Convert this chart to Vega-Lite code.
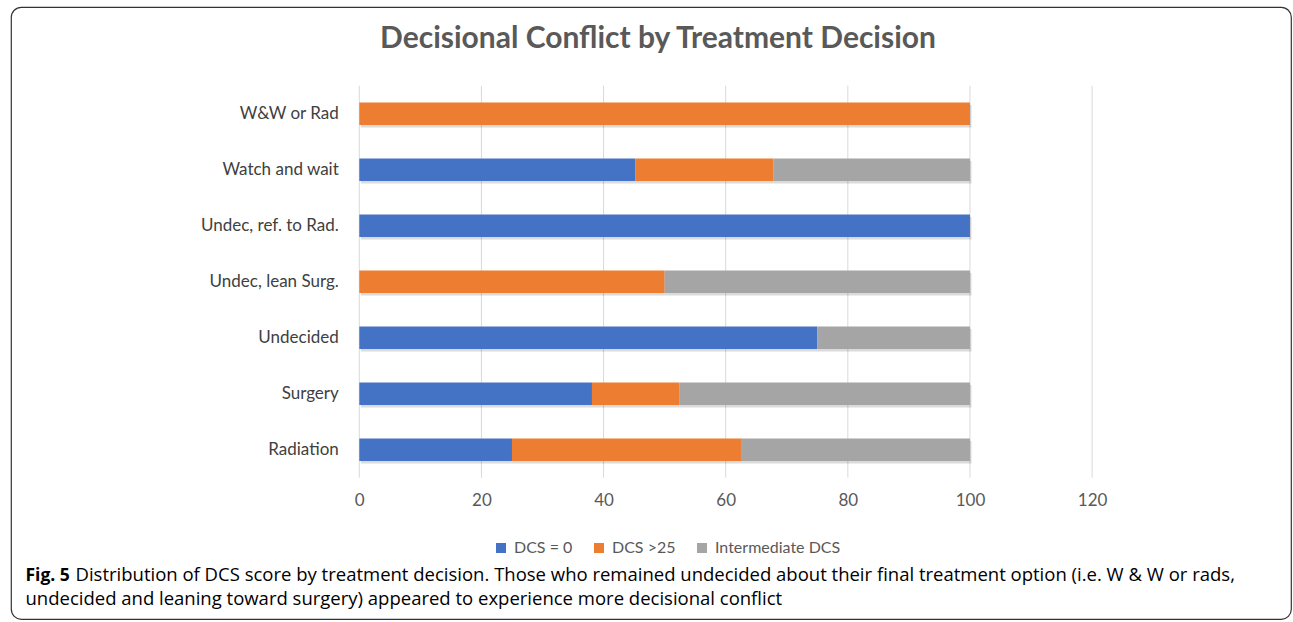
{
  "$schema": "https://vega.github.io/schema/vega-lite/v6.json",
  "width": 1280,
  "height": 612,
  "autosize": {"type": "none"},
  "padding": {"left": 11, "top": 7, "right": 2, "bottom": 3},
  "background": "white",
  "view": {"stroke": "#333333", "strokeWidth": 1.2, "cornerRadius": 10, "fill": "white"},
  "title": {
    "text": "Decisional Conflict by Treatment Decision",
    "font": "Lato",
    "fontSize": 30,
    "fontWeight": "bold",
    "color": "#595959",
    "anchor": "middle",
    "frame": "group",
    "baseline": "alphabetic",
    "offset": -71,
    "dx": 7
  },
  "datasets": {
    "dcs": [
      {"decision": "W&W or Rad", "group": "DCS >25", "pct": 100},
      {"decision": "Watch and wait", "group": "DCS = 0", "pct": 45.2},
      {"decision": "Watch and wait", "group": "DCS >25", "pct": 22.6},
      {"decision": "Watch and wait", "group": "Intermediate DCS", "pct": 32.2},
      {"decision": "Undec, ref. to Rad.", "group": "DCS = 0", "pct": 100},
      {"decision": "Undec, lean Surg.", "group": "DCS >25", "pct": 50},
      {"decision": "Undec, lean Surg.", "group": "Intermediate DCS", "pct": 50},
      {"decision": "Undecided", "group": "DCS = 0", "pct": 75},
      {"decision": "Undecided", "group": "Intermediate DCS", "pct": 25},
      {"decision": "Surgery", "group": "DCS = 0", "pct": 38.1},
      {"decision": "Surgery", "group": "DCS >25", "pct": 14.3},
      {"decision": "Surgery", "group": "Intermediate DCS", "pct": 47.6},
      {"decision": "Radiation", "group": "DCS = 0", "pct": 25},
      {"decision": "Radiation", "group": "DCS >25", "pct": 37.5},
      {"decision": "Radiation", "group": "Intermediate DCS", "pct": 37.5}
    ],
    "gridlines": [
      {"tick": 0}, {"tick": 20}, {"tick": 40}, {"tick": 60},
      {"tick": 80}, {"tick": 100}, {"tick": 120}
    ]
  },
  "layer": [
    {
      "data": {"name": "gridlines"},
      "mark": {"type": "rule", "color": "#d9d9d9", "strokeWidth": 1},
      "encoding": {
        "x": {
          "field": "tick",
          "type": "quantitative",
          "scale": {"domain": [0, 120], "range": [348.3, 1081.1], "nice": false, "zero": true},
          "axis": null
        },
        "y": {
          "datum": 0,
          "type": "quantitative",
          "scale": {"domain": [0, 1], "range": [78.7, 470.7]},
          "axis": {
            "orient": "right",
            "domain": false,
            "ticks": false,
            "labels": false,
            "grid": false,
            "title": "Fig. 5",
            "titleAngle": 0,
            "titleFont": "Open Sans",
            "titleFontSize": 17.5,
            "titleFontWeight": "bold",
            "titleColor": "#000000",
            "titleAlign": "left",
            "titleBaseline": "alphabetic",
            "titleX": -1266,
            "titleY": 573.5
          }
        },
        "y2": {"datum": 1}
      }
    },
    {
      "data": {"name": "dcs"},
      "transform": [
        {"aggregate": [{"op": "sum", "field": "pct", "as": "total"}], "groupby": ["decision"]}
      ],
      "mark": {"type": "bar", "color": "#000000", "opacity": 0.14, "yOffset": 2.5, "xOffset": 1.5},
      "encoding": {
        "y": {
          "field": "decision",
          "type": "nominal",
          "sort": ["W&W or Rad", "Watch and wait", "Undec, ref. to Rad.", "Undec, lean Surg.", "Undecided", "Surgery", "Radiation"],
          "scale": {"range": [78.7, 470.7], "paddingInner": 0.6, "paddingOuter": 0.3},
          "axis": null
        },
        "x": {
          "field": "total",
          "type": "quantitative",
          "scale": {"domain": [0, 120], "range": [348.3, 1081.1], "nice": false, "zero": true},
          "axis": null
        }
      }
    },
    {
      "data": {"name": "dcs"},
      "mark": {"type": "bar"},
      "encoding": {
        "y": {
          "field": "decision",
          "type": "nominal",
          "sort": ["W&W or Rad", "Watch and wait", "Undec, ref. to Rad.", "Undec, lean Surg.", "Undecided", "Surgery", "Radiation"],
          "scale": {"range": [78.7, 470.7], "paddingInner": 0.6, "paddingOuter": 0.3},
          "axis": {
            "orient": "left",
            "offset": -348.3,
            "domain": false,
            "ticks": false,
            "tickSize": 0,
            "grid": false,
            "labelPadding": 21,
            "labelFont": "Lato",
            "labelFontSize": 17,
            "labelColor": "#404040",
            "labelLimit": 0,
            "title": "undecided and leaning toward surgery) appeared to experience more decisional conflict",
            "titleAngle": 0,
            "titleFont": "Open Sans",
            "titleFontSize": 18.5,
            "titleFontWeight": "normal",
            "titleColor": "#000000",
            "titleAlign": "left",
            "titleBaseline": "alphabetic",
            "titleLimit": 0,
            "titleX": -334.3,
            "titleY": 597.5
          }
        },
        "x": {
          "field": "pct",
          "type": "quantitative",
          "stack": "zero",
          "scale": {"domain": [0, 120], "range": [348.3, 1081.1], "nice": false, "zero": true},
          "axis": {
            "orient": "bottom",
            "offset": -141.3,
            "values": [0, 20, 40, 60, 80, 100, 120],
            "domain": false,
            "ticks": false,
            "tickSize": 0,
            "grid": false,
            "labelFlush": false,
            "labelPadding": 15,
            "labelFont": "Lato",
            "labelFontSize": 17,
            "labelColor": "#595959",
            "title": "Distribution of DCS score by treatment decision. Those who remained undecided about their final treatment option (i.e. W & W or rads,",
            "titleFont": "Open Sans",
            "titleFontSize": 18.5,
            "titleFontWeight": "normal",
            "titleColor": "#000000",
            "titleAlign": "left",
            "titleAnchor": "start",
            "titleBaseline": "alphabetic",
            "titleLimit": 0,
            "titleX": 64,
            "titleY": 102.5
          }
        },
        "color": {
          "field": "group",
          "type": "nominal",
          "scale": {
            "domain": ["DCS = 0", "DCS >25", "Intermediate DCS"],
            "range": ["#4472C4", "#ED7D31", "#A5A5A5"]
          },
          "legend": {
            "title": null,
            "orient": "none",
            "legendX": 482,
            "legendY": 533,
            "direction": "horizontal",
            "symbolType": "square",
            "symbolSize": 100,
            "symbolStrokeWidth": 0,
            "labelFont": "Lato",
            "labelFontSize": 16,
            "labelColor": "#595959",
            "labelOffset": 5,
            "columnPadding": 18,
            "padding": 0
          }
        },
        "order": {"field": "group", "sort": "ascending"}
      }
    }
  ],
  "resolve": {"scale": {"y": "independent"}, "axis": {"x": "independent"}}
}
